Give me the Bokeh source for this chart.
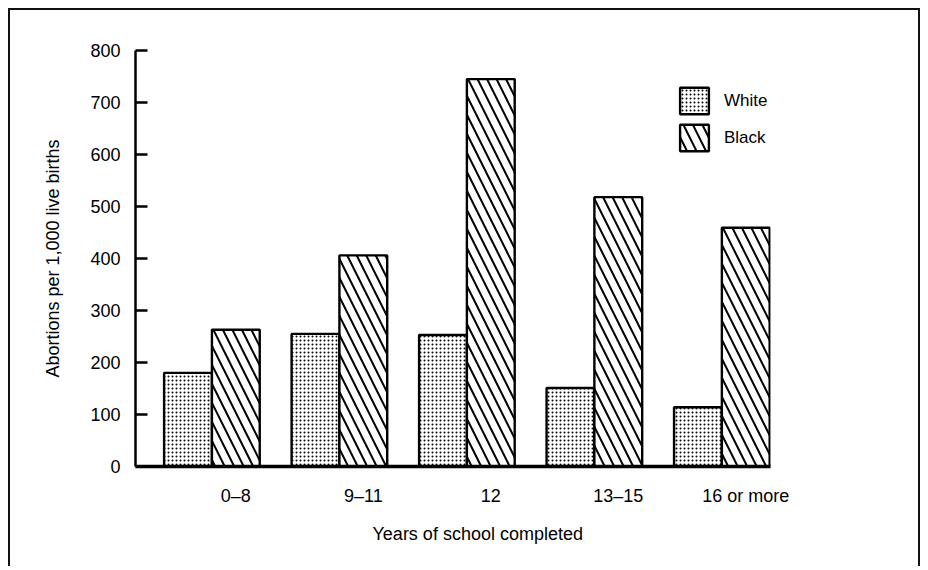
from bokeh.plotting import figure
from bokeh.models import ColumnDataSource, FixedTicker, Legend, LegendItem, Title
from bokeh.embed import file_html
from bokeh.resources import INLINE

# ---- data ----
categories = ["0\u20138", "9\u201311", "12", "13\u201315", "16 or more"]
white = [180, 255, 253, 151, 114]
black = [263, 406, 745, 518, 459]
y_ticks = [0, 100, 200, 300, 400, 500, 600, 700, 800]

FONT = "Liberation Sans"
FS = "18px"
BW = 0.375  # bar width in group units

idx = list(range(len(categories)))
src_w = ColumnDataSource(dict(x=[i for i in idx], top=white))
src_b = ColumnDataSource(dict(x=[i + BW for i in idx], top=black))

p = figure(width=912, height=558, output_backend="svg", toolbar_location=None,
           x_range=(-0.412, 4.569), y_range=(0, 800),
           min_border_left=125, min_border_right=152,
           min_border_top=40, min_border_bottom=102)
p.outline_line_color = None
p.grid.grid_line_color = None
p.background_fill_color = "white"
p.border_fill_color = "white"

rw = p.vbar(x="x", top="top", width=BW, source=src_w, fill_color="white",
            line_color="black", line_width=2.4,
            hatch_pattern="dot", hatch_scale=4, hatch_weight=2.2, hatch_color="black")
rb = p.vbar(x="x", top="top", width=BW, source=src_b, fill_color="white",
            line_color="black", line_width=2.4,
            hatch_pattern="left_diagonal_line", hatch_scale=19, hatch_weight=2,
            hatch_color="black")

# y axis
ya = p.yaxis[0]
ya.ticker = FixedTicker(ticks=y_ticks)
ya.minor_tick_line_color = None
ya.major_tick_in = 12
ya.major_tick_out = 0
ya.major_tick_line_width = 2.5
ya.axis_line_width = 2.5
ya.major_label_standoff = 15
ya.major_label_text_font = FONT
ya.major_label_text_font_size = FS
ya.major_label_text_color = "black"
ya.axis_label = "Abortions per 1,000 live births"
ya.axis_label_text_font = FONT
ya.axis_label_text_font_size = FS
ya.axis_label_text_font_style = "normal"
ya.axis_label_standoff = 24
ya.axis_label_text_color = "black"

# x axis
xa = p.xaxis[0]
xa.ticker = FixedTicker(ticks=[i + BW for i in idx])
xa.major_label_overrides = {i + BW: c for i, c in zip(idx, categories)}
xa.minor_tick_line_color = None
xa.major_tick_line_color = None
xa.major_tick_in = 0
xa.major_tick_out = 0
xa.axis_line_width = 3.5
xa.major_label_standoff = 19
xa.major_label_text_font = FONT
xa.major_label_text_font_size = FS
xa.major_label_text_color = "black"

p.add_layout(Title(text="Years of school completed", align="left", offset=237,
                   text_font=FONT, text_font_size=FS, text_font_style="normal",
                   text_color="black", standoff=26), "below")

legend = Legend(items=[LegendItem(label="White", renderers=[rw]),
                       LegendItem(label="Black", renderers=[rb])],
                location=(541, 312), padding=0, margin=0, spacing=4,
                glyph_width=36, glyph_height=33, label_standoff=12,
                label_text_font=FONT, label_text_font_size="17px",
                label_text_color="black",
                border_line_color=None, background_fill_alpha=0)
p.add_layout(legend)

p.styles = {"margin-left": "8px", "margin-top": "8px",
            "border-top": "2px solid #111", "border-left": "2px solid #111",
            "border-right": "2px solid #111"}

open("out.html", "w").write(file_html(p, INLINE))
